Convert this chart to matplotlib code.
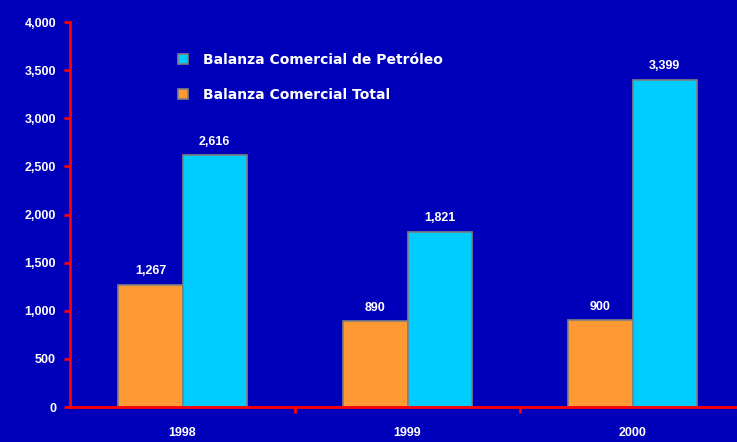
import numpy as np
import matplotlib
matplotlib.use("Agg")
import matplotlib.pyplot as plt

years = ["1998", "1999", "2000"]
total = [1267, 890, 900]
petroleo = [2616, 1821, 3399]
total_labels = ["1,267", "890", "900"]
petroleo_labels = ["2,616", "1,821", "3,399"]
yticks = [0, 500, 1000, 1500, 2000, 2500, 3000, 3500, 4000]
ytick_labels = ["0", "500", "1,000", "1,500", "2,000", "2,500", "3,000", "3,500", "4,000"]

bg = "#0000BB"
orange = "#FF9933"
cyan = "#00CCFF"
red = "#FF0000"

plt.rcParams['font.family'] = ['Liberation Sans', 'DejaVu Sans']

fig = plt.figure(figsize=(7.37, 4.42), dpi=100, facecolor=bg)
ax = fig.add_axes([0.095, 0.079, 0.916, 0.871], facecolor=bg)

x = np.arange(len(years))
w = 0.285
b1 = ax.bar(x - w / 2, total, w, color=orange, edgecolor="#808080", linewidth=1.2,
            label="Balanza Comercial Total")
b2 = ax.bar(x + w / 2, petroleo, w, color=cyan, edgecolor="#808080", linewidth=1.2,
            label="Balanza Comercial de Petróleo")

for xi, v, s in zip(x - w / 2, total, total_labels):
    ax.text(xi, v + 80, s, ha="center", va="bottom", color="white",
            fontsize=9, fontweight="bold")
for xi, v, s in zip(x + w / 2, petroleo, petroleo_labels):
    ax.text(xi, v + 80, s, ha="center", va="bottom", color="white",
            fontsize=9, fontweight="bold")

ax.set_xlim(-0.5, 2.5)
ax.set_ylim(0, 4000)
ax.set_yticks(yticks)
ax.set_yticklabels(ytick_labels)
ax.set_xticks(x)
ax.set_xticklabels(years)
ax.set_xticks([0.5, 1.5], minor=True)

for sp in ["top", "right"]:
    ax.spines[sp].set_visible(False)
for sp in ["left", "bottom"]:
    ax.spines[sp].set_color(red)
    ax.spines[sp].set_linewidth(2)

ax.tick_params(axis="y", colors=red, length=4, width=2, labelcolor="white",
               labelsize=9, pad=6)
ax.tick_params(axis="x", which="major", length=0, labelcolor="white",
               labelsize=9, pad=14)
ax.tick_params(axis="x", which="minor", colors=red, length=4, width=2)
for lab in ax.get_yticklabels() + ax.get_xticklabels():
    lab.set_fontweight("bold")

leg = ax.legend(handles=[b2, b1], loc="upper left", bbox_to_anchor=(0.142, 0.953),
                frameon=False, prop={"family": "DejaVu Sans", "size": 10},
                handlelength=0.7, handleheight=0.7,
                handletextpad=1.1, labelspacing=1.5)
for t in leg.get_texts():
    t.set_color("white")
    t.set_fontweight("bold")

fig.savefig("out.png", dpi=100, facecolor=bg)
